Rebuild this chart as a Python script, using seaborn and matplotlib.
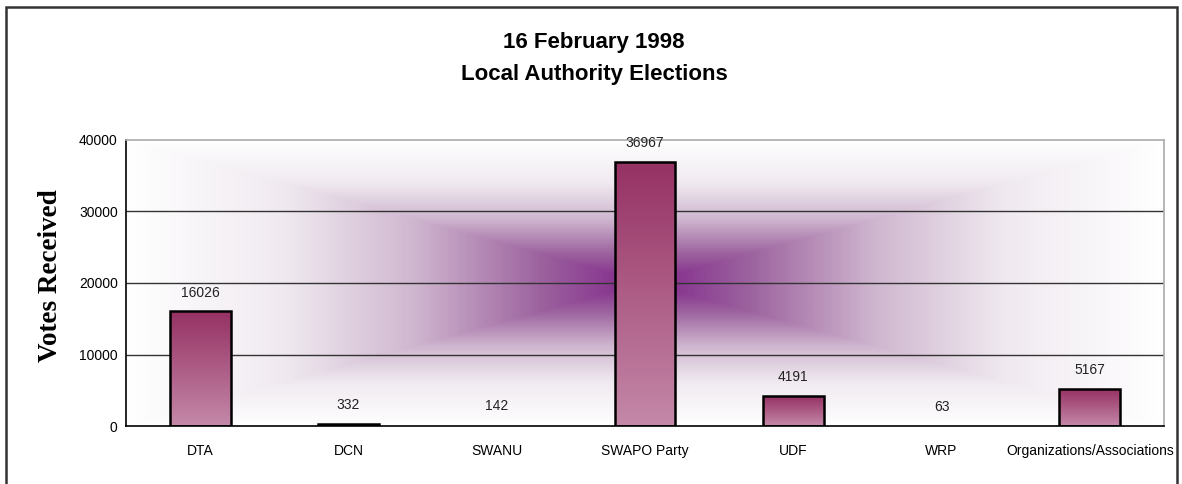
import numpy as np
import pandas as pd
import matplotlib
matplotlib.use('Agg')
import matplotlib.pyplot as plt
import matplotlib.patches as mpatches
from matplotlib.colors import LinearSegmentedColormap
import seaborn as sns

# data
parties = ['DTA', 'DCN', 'SWANU', 'SWAPO Party', 'UDF', 'WRP', 'Organizations/Associations']
votes = [16026, 332, 142, 36967, 4191, 63, 5167]
y_ticks = [0, 10000, 20000, 30000, 40000]

df = pd.DataFrame({'party': parties, 'votes': votes})

sns.set_theme(style='white')
plt.rcParams['font.family'] = ['Liberation Sans', 'DejaVu Sans']
plt.rcParams['text.color'] = 'black'
plt.rcParams['xtick.color'] = 'black'
plt.rcParams['ytick.color'] = 'black'

fig = plt.figure(figsize=(11.82, 4.84), dpi=100)
ax = fig.add_axes([126 / 1182, 1 - 426 / 484, (1164 - 126) / 1182, (426 - 140) / 484])

# background: gradient from the centre outwards
bg_cmap = LinearSegmentedColormap.from_list('bg', [
    (0.0, '#ffffff'), (0.3, '#f0eaf0'), (0.55, '#d0b8d0'),
    (0.8, '#9c629e'), (1.0, '#80258a')])
gx = np.linspace(-1, 1, 400)
gy = np.linspace(-1, 1, 200)
GX, GY = np.meshgrid(gx, gy)
t = np.maximum(np.abs(GX), np.abs(GY))
ax.imshow(1 - t, cmap=bg_cmap, extent=(-0.5, 6.5, 0, 40000), aspect='auto',
          zorder=0, vmin=0, vmax=1, interpolation='bilinear')

sns.barplot(data=df, x='party', y='votes', ax=ax, width=0.41,
            color='#b06090', edgecolor='black', linewidth=1.8, zorder=3)

# bars get a vertical gradient
bar_cmap = LinearSegmentedColormap.from_list('bar', ['#c488a8', '#963264'])
grad = np.linspace(0, 1, 100).reshape(-1, 1)
for p in ax.patches:
    x0, y0 = p.get_x(), p.get_y()
    w, h = p.get_width(), p.get_height()
    p.set_facecolor('none')
    if h < 200:
        # too thin to show up
        p.set_edgecolor('none')
        continue
    im = ax.imshow(grad, cmap=bar_cmap, extent=(x0, x0 + w, y0, y0 + h),
                   aspect='auto', origin='lower', zorder=2.5)
    im.set_clip_path(p)

for i, v in enumerate(votes):
    ax.annotate(str(v), (i, v), xytext=(0, 13.5), textcoords='offset points',
                ha='center', va='center', fontsize=10, color='#222222')

ax.set_xlim(-0.5, 6.5)
ax.set_ylim(0, 40000)
ax.set_yticks(y_ticks)
ax.set_yticklabels([str(v) for v in y_ticks], fontsize=10)
ax.set_xticks(np.arange(-0.5, 7, 1))
ax.set_xticklabels([])
ax.set_xticks(np.arange(7), minor=True)
ax.set_xticklabels(parties, minor=True, fontsize=10)
ax.tick_params(axis='x', which='major', direction='out', length=4, width=1, color='black')
ax.tick_params(axis='x', which='minor', length=0, pad=13)
ax.tick_params(axis='y', direction='out', length=4, width=1, color='black', pad=2)
ax.set_xlabel('')
ax.set_ylabel('')

fig.text(51 / 1182, 1 - 276 / 484, 'Votes Received', rotation=90, ha='center', va='center',
         fontsize=19.5, fontweight='bold', family='Liberation Serif')

for yv in [10000, 20000, 30000]:
    ax.axhline(yv, color='#333333', linewidth=1, zorder=1)

ax.spines['left'].set_color('black')
ax.spines['bottom'].set_color('black')
ax.spines['top'].set_color('#aaaaaa')
ax.spines['right'].set_color('#aaaaaa')
for s in ax.spines.values():
    s.set_linewidth(1.2)

fig.text(0.5 + 3 / 1182, 1 - 48 / 484, '16 February 1998', ha='center', va='baseline',
         fontsize=16, fontweight='bold')
fig.text(0.5 + 3 / 1182, 1 - 80 / 484, 'Local Authority Elections', ha='center', va='baseline',
         fontsize=16, fontweight='bold')

# outer border
fig.patches.append(mpatches.Rectangle((6 / 1182, -0.05), 1171 / 1182, 1.05 - 7 / 484,
                                      transform=fig.transFigure, fill=False,
                                      edgecolor='#333333', linewidth=1.8))

fig.savefig('out.png', dpi=100)
